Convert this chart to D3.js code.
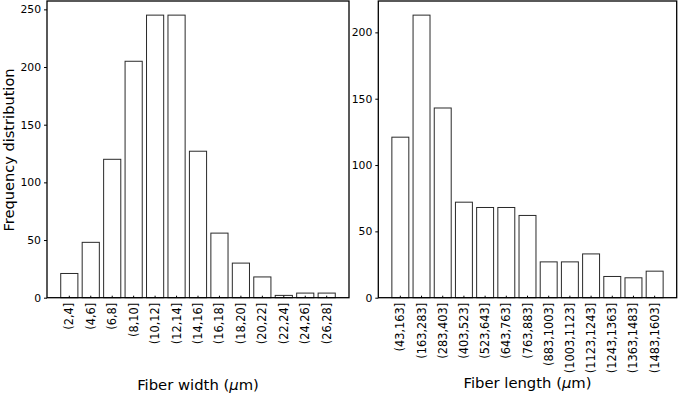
<!DOCTYPE html>
<html><head><meta charset="utf-8">
<script src="https://cdn.jsdelivr.net/npm/d3@7"></script>
<style>body{margin:0;background:#fff}svg{display:block}text{font-family:"DejaVu Sans",sans-serif;fill:#000}</style>
</head><body>
<svg id="c" width="680" height="396"></svg>
<script>
const widthCats = ["(2,4]","(4,6]","(6,8]","(8,10]","(10,12]","(12,14]","(14,16]","(16,18]","(18,20]","(20,22]","(22,24]","(24,26]","(26,28]"];
const widthVals = [21,48,120,205,245,245,127,56,30,18,2,4,4];
const lengthCats = ["(43,163]","(163,283]","(283,403]","(403,523]","(523,643]","(643,763]","(763,883]","(883,1003]","(1003,1123]","(1123,1243]","(1243,1363]","(1363,1483]","(1483,1603]"];
const lengthVals = [121,213,143,72,68,68,62,27,27,33,16,15,20];
const widthTicks = [0,50,100,150,200,250];
const lengthTicks = [0,50,100,150,200];

const svg = d3.select("#c");
const y0 = 297.7, yTop = 1;

function panel(cats, vals, ticks, x0, x1, xlabel, labelY){
  const g = svg.append("g");
  const x = d3.scaleBand().domain(cats).range([x0,x1]).paddingInner(0.2).paddingOuter(0.64);
  const y = d3.scaleLinear().domain([0, d3.max(vals)*1.05]).range([y0, yTop]);
  g.selectAll("rect.bar").data(vals).join("rect")
    .attr("x",(d,i)=>x(cats[i])).attr("width",x.bandwidth())
    .attr("y",d=>y(d)).attr("height",d=>y0-y(d))
    .attr("fill","#fff").attr("stroke","#2a2a2a").attr("stroke-width",1);
  const ya = d3.axisLeft(y).tickValues(ticks).tickSize(3).tickPadding(3);
  const yg = g.append("g").attr("transform",`translate(${x0},0)`).call(ya);
  yg.select(".domain").remove();
  yg.selectAll("text").style("font-size","10.8px").style("font-family","DejaVu Sans");
  const xa = d3.axisBottom(x).tickSize(-2).tickPadding(6);
  const xg = g.append("g").attr("transform",`translate(0,${y0})`).call(xa);
  xg.select(".domain").remove();
  xg.selectAll("text").style("font-size","11.4px").style("font-family","DejaVu Sans")
    .attr("transform","rotate(-90)").attr("text-anchor","end").attr("dy","0.35em").attr("y",0).attr("x",-5);
  g.append("rect").attr("x",x0).attr("y",yTop).attr("width",x1-x0).attr("height",y0-yTop)
    .attr("fill","none").attr("stroke","#000").attr("stroke-width",1.3);
  const t = g.append("text").attr("x",(x0+x1)/2).attr("y",labelY).attr("text-anchor","middle").style("font-size","14.8px");
  t.append("tspan").text(xlabel + " (");
  t.append("tspan").style("font-style","italic").text("\u03bc");
  t.append("tspan").text("m)");
}
panel(widthCats, widthVals, widthTicks, 47, 349, "Fiber width", 390);
panel(lengthCats, lengthVals, lengthTicks, 378.3, 676.7, "Fiber length", 387.5);
svg.append("text").attr("transform","translate(13.5,150) rotate(-90)").attr("text-anchor","middle")
  .style("font-size","14.6px").text("Frequency distribution");
</script>
</body></html>
